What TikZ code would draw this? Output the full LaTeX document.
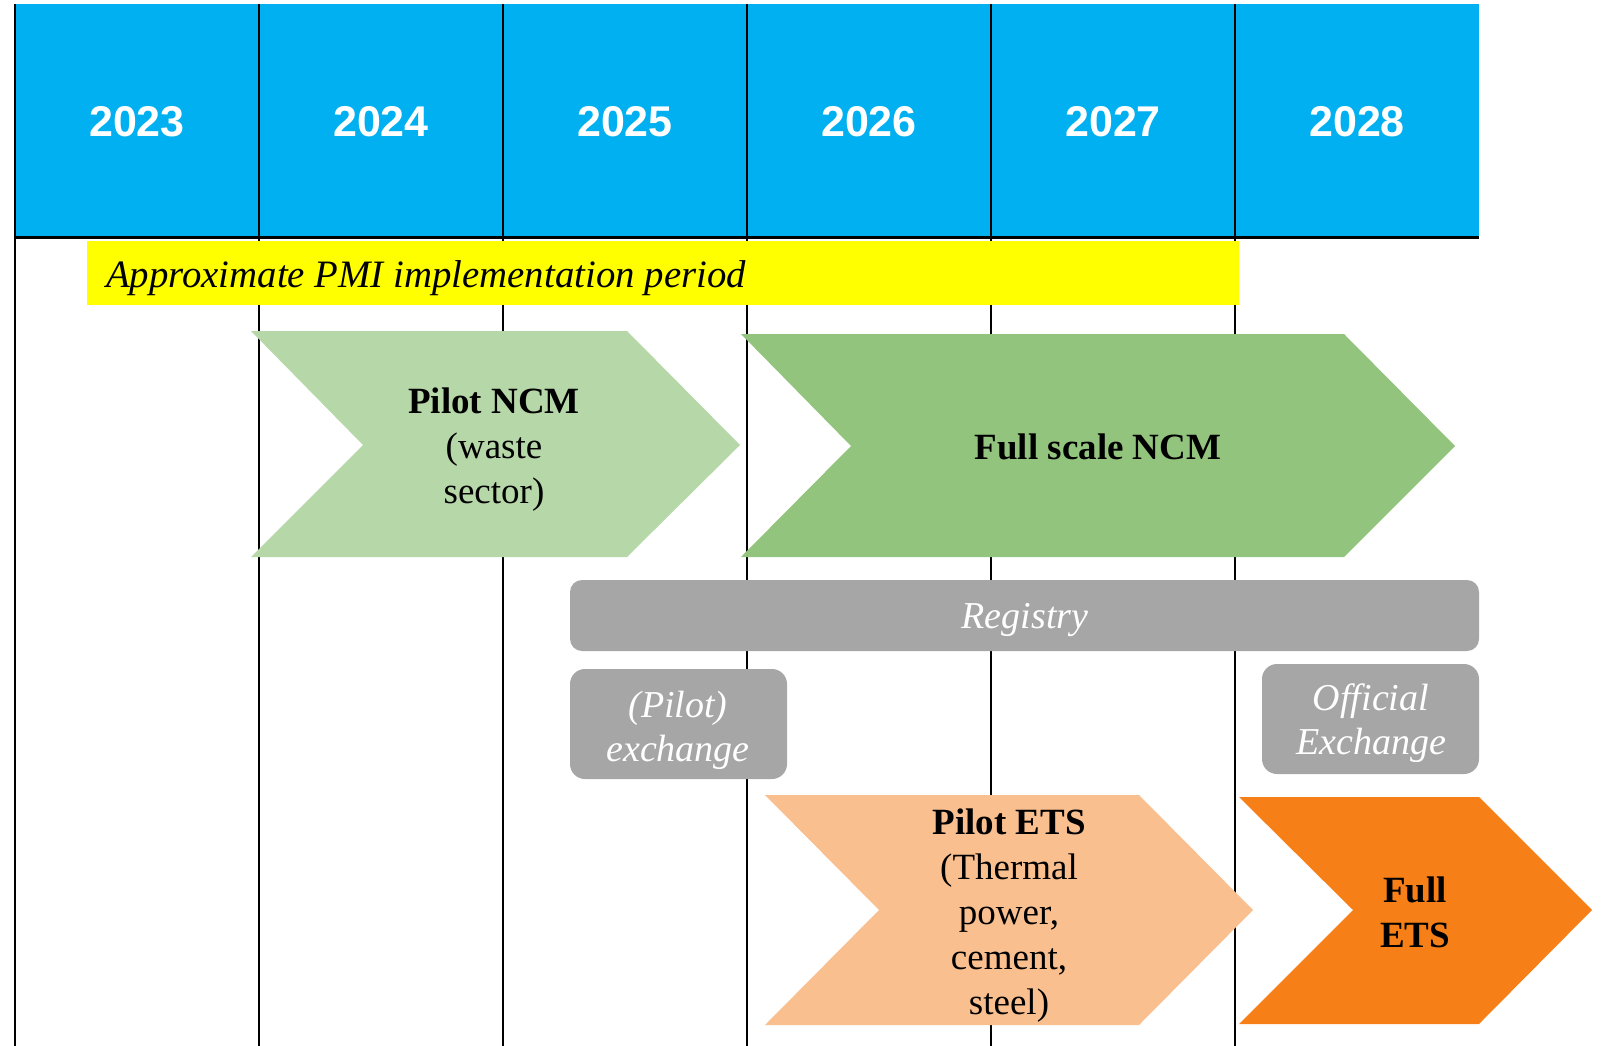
\documentclass[tikz,border=0pt]{standalone}
\usepackage{fontspec}
\setmainfont{Liberation Serif}
\newfontfamily\yearfont{Liberation Sans}
\usetikzlibrary{positioning}
\definecolor{headblue}{HTML}{00B0F0}
\definecolor{pmiyellow}{HTML}{FFFF00}
\definecolor{ncmlight}{HTML}{B6D7A8}
\definecolor{ncmfull}{HTML}{93C47D}
\definecolor{etslight}{HTML}{F9BF8F}
\definecolor{etsfull}{HTML}{F77F17}
\definecolor{infragray}{HTML}{A6A6A6}
\tikzset{
    yearlabel/.style={
        font=\yearfont\bfseries\fontsize{43}{50}\selectfont,
        text=white, anchor=base, inner sep=0pt
    },
    gridline/.style={draw=black, line width=2pt},
    phasebar/.style={fill=pmiyellow},
    chevronlight/.style={fill=ncmlight},
    chevronfull/.style={fill=ncmfull},
    etsstage/.style={fill=etslight},
    etsfinal/.style={fill=etsfull},
    infra/.style={fill=infragray, rounded corners=12pt},
    phasetext/.style={
        font=\fontsize{37}{45}\selectfont, align=center,
        text=black, inner sep=0pt
    },
    infratext/.style={
        font=\itshape\fontsize{38}{44}\selectfont, align=center,
        text=white, inner sep=0pt
    }
}

\begin{document}
\begin{tikzpicture}[x=1pt, y=-1pt]
\useasboundingbox (0,0) rectangle (1603,1046);

% Year header
\fill[headblue] (15,4) rectangle (1479,237);
\foreach \i in {0,...,5}
    \draw[gridline] ({15+244*\i},4) -- ({15+244*\i},1046);
\draw[draw=black, line width=3pt] (15,237) -- (1479,237);
\foreach \yr [count=\i from 0] in {2023,...,2028}
    \node[yearlabel] (y\yr) at ({137+244*\i},137) {\yr};

% PMI period
\fill[phasebar] (87,241) rectangle (1239,305);
\node[font=\itshape\fontsize{38.8}{44}\selectfont, anchor=base west, inner sep=0pt] (pmi) at (106,287) {Approximate PMI implementation period};

% NCM stages
\fill[chevronlight] (251,331) -- (627,331) -- (740,445) -- (627,557) -- (251,557) -- (363,445) -- cycle;
\node[phasetext] (pilotncm) at (494,450) {\textbf{Pilot NCM}\\(waste\\sector)};
\fill[chevronfull] (741,334) -- (1344,334) -- (1455,446) -- (1344,557) -- (741,557) -- (851,446) -- cycle;
\node[phasetext, anchor=base] (fullncm) at (1098,459) {\textbf{Full scale NCM}};

% Infrastructure
\path[infra] (570,580) rectangle (1479,651);
\node[infratext, anchor=base] (registry) at (1025,628) {Registry};
\path[infra, rounded corners=15pt] (570,669) rectangle (787,779);
\node[infratext] (pilotex) at (678,730) {(Pilot)\\exchange};
\path[infra, rounded corners=15pt] (1262,664) rectangle (1479,774);
\node[infratext] (officialex) at (1371,723) {Official\\Exchange};

% ETS stages
\fill[etsstage] (765,795) -- (1139,795) -- (1253,910) -- (1139,1025) -- (765,1025) -- (879,910) -- cycle;
\node[phasetext] (pilotets) at (1009,916) {\textbf{Pilot ETS}\\(Thermal\\power,\\cement,\\steel)};
\fill[etsfinal] (1239,797) -- (1479,797) -- (1592,910) -- (1479,1024) -- (1239,1024) -- (1353,910) -- cycle;
\node[phasetext] (fullets) at (1415,912) {\textbf{Full}\\\textbf{ETS}};

\end{tikzpicture}
\end{document}
